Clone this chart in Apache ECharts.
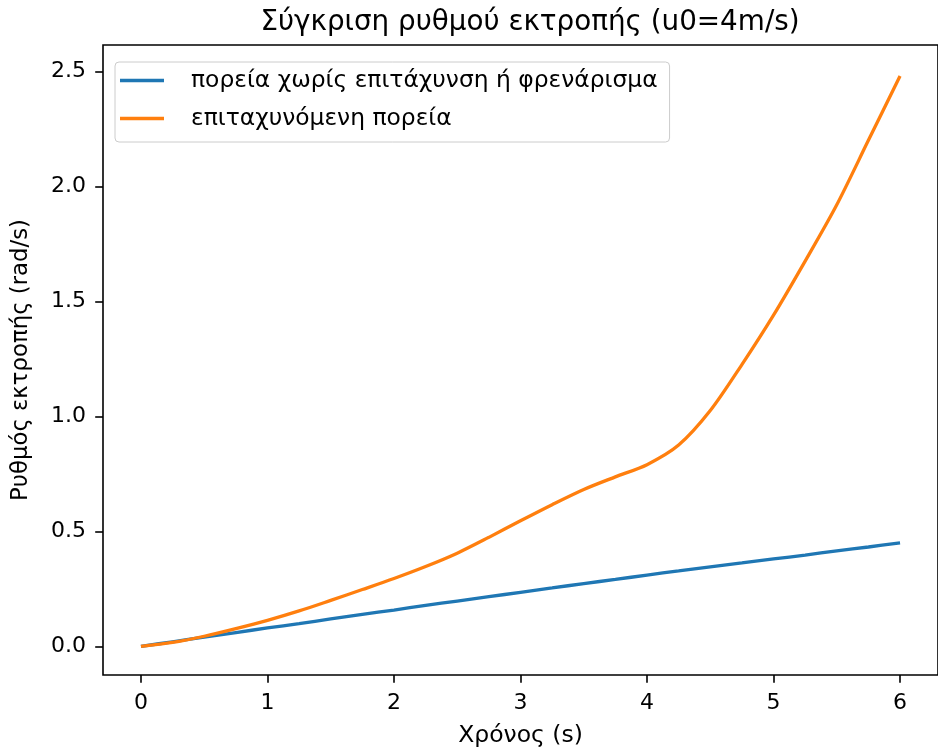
<!DOCTYPE html>
<html>
<head>
<meta charset="utf-8">
<script src="https://cdn.jsdelivr.net/npm/echarts@6/dist/echarts.min.js"></script>
<style>html,body{margin:0;padding:0;background:#fff;}#c{width:938px;height:753px;}</style>
</head>
<body>
<div id="c"></div>
<script>
const title = 'Σύγκριση ρυθμού εκτροπής (u0=4m/s)';
const xName = 'Χρόνος (s)';
const yName = 'Ρυθμός εκτροπής (rad/s)';
const seriesNames = ['πορεία χωρίς επιτάχυνση ή φρενάρισμα', 'επιταχυνόμενη πορεία'];
const time = [0,0.25,0.5,0.75,1,1.25,1.5,1.75,2,2.25,2.5,2.75,3,3.25,3.5,3.75,4,4.25,4.5,4.75,5,5.25,5.5,5.75,6];
const steady = [0,0.020,0.040,0.060,0.080,0.099,0.119,0.139,0.158,0.178,0.197,0.216,0.235,0.254,0.273,0.291,0.310,0.328,0.346,0.363,0.380,0.397,0.415,0.432,0.450];
const accel = [0,0.017,0.044,0.077,0.113,0.154,0.200,0.247,0.295,0.347,0.405,0.474,0.546,0.616,0.682,0.737,0.790,0.875,1.025,1.225,1.440,1.675,1.920,2.200,2.480];
const xTicks = [0,1,2,3,4,5,6];
const yTicks = [0,0.5,1.0,1.5,2.0,2.5];

const font = 'DejaVu Sans';
const chart = echarts.init(document.getElementById('c'), null, {renderer:'canvas'});
chart.setOption({
  backgroundColor:'#ffffff',
  animation:false,
  title:{text:title,left:525,top:4,textAlign:'center',textStyle:{fontFamily:font,fontSize:27.8,fontWeight:'normal',color:'#000'}},
  legend:{
    orient:'vertical',left:115,top:62,
    padding:[7,12,12,5],itemGap:15,itemWidth:44,itemHeight:3.3,
    icon:'rect',
    backgroundColor:'rgba(255,255,255,0.8)',borderColor:'#cccccc',borderWidth:1,borderRadius:4,
    textStyle:{fontFamily:font,fontSize:23.4,color:'#000',padding:[0,0,0,22]},
    data:seriesNames
  },
  grid:{left:103,top:45,width:845,height:632,show:true,borderColor:'#000',borderWidth:1.6,backgroundColor:'transparent'},
  xAxis:{
    type:'value',min:-0.3,max:6.3,
    name:xName,nameLocation:'middle',nameGap:49,
    nameTextStyle:{fontFamily:font,fontSize:23.5,color:'#000'},
    axisLine:{show:false,onZero:false},
    splitLine:{show:false},
    axisTick:{show:true,length:7.8,lineStyle:{color:'#000',width:1.6},customValues:xTicks},
    axisLabel:{fontFamily:font,fontSize:22,color:'#000',margin:17,customValues:xTicks,formatter:v=>String(v)}
  },
  yAxis:{
    type:'value',min:-0.1245,max:2.6145,
    name:yName,nameLocation:'middle',nameGap:70,nameRotate:90,
    nameTextStyle:{fontFamily:font,fontSize:22.8,color:'#000'},
    axisLine:{show:false,onZero:false},
    splitLine:{show:false},
    axisTick:{show:true,length:7.8,lineStyle:{color:'#000',width:1.6},customValues:yTicks},
    axisLabel:{fontFamily:font,fontSize:22,color:'#000',margin:17,customValues:yTicks,formatter:v=>v.toFixed(1)}
  },
  series:[
    {name:seriesNames[0],type:'line',data:time.map((t,i)=>[t,steady[i]]),showSymbol:false,smooth:0.3,lineStyle:{color:'#1f77b4',width:3.3},itemStyle:{color:'#1f77b4'},z:2},
    {name:seriesNames[1],type:'line',data:time.map((t,i)=>[t,accel[i]]),showSymbol:false,smooth:0.3,lineStyle:{color:'#ff7f0e',width:3.3},itemStyle:{color:'#ff7f0e'},z:3}
  ]
});
</script>
</body>
</html>
